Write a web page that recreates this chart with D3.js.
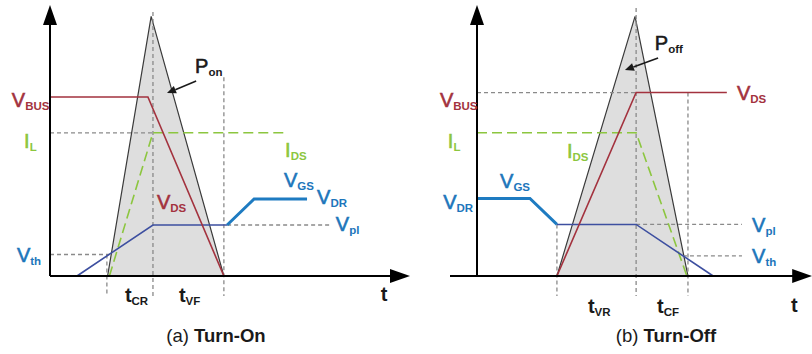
<!DOCTYPE html>
<html>
<head>
<meta charset="utf-8">
<script src="https://cdn.jsdelivr.net/npm/d3@7"></script>
<style>
  html, body { margin: 0; padding: 0; background: #fff; }
  svg { display: block; font-family: "Liberation Sans", Arial, Helvetica, sans-serif; }
</style>
</head>
<body>
<svg id="chart" width="812" height="354"></svg>
<script>
// ---- Turn-on waveforms: [time, level] in arbitrary units ----
const onVds     = [[0, 100], [27.2, 100], [48.3, 0], [68.9, 0]];
const onIds     = [[16.5, 0], [28.6, 80], [65.8, 80]];
const onVgs     = [[7.5, 0], [28.6, 28.5], [49.2, 28.5]];
const onVgsDrv  = [[49.2, 28.5], [56.7, 43], [71.4, 43]];
const onPower   = [[16, 0], [28.1, 145], [48.3, 0]];

// ---- Turn-off waveforms ----
const offVds    = [[0, 0], [22.2, 0], [44.2, 102.5], [69.4, 102.5]];
const offIds    = [[0, 80], [44.2, 80], [58.3, 0]];
const offVgsDrv = [[0, 43.3], [14.7, 43.3], [22.2, 28.8]];
const offVgs    = [[22.2, 28.8], [44.2, 28.8], [65.6, 0]];
const offPower  = [[22.2, 0], [43.9, 145], [58.6, 0]];

// ---- Reference levels / time markers (dashed guides) ----
const onLevels  = { IL: 80, Vpl: 28.5, Vth: 12 };
const onMarks   = { tStart: 15.8, tPlateau: 28.6, tEnd: 48.3 };
const offLevels = { VBUS: 102.5, Vpl: 28.8, Vth: 11.2 };
const offMarks  = { tStart: 22.2, tPlateau: 44.2, tEnd: 58.6 };

const C = {
  red: "#a3323e", green: "#8cc63f", blueThin: "#3d4fa0", blueThick: "#1e7bc1",
  blueText: "#1d76bb", grey: "#8a8a8a", fill: "#dedede", edge: "#3a3a3a", ink: "#1a1a1a"
};

const svg = d3.select("#chart");
const y = d3.scaleLinear().domain([0, 100]).range([276, 97]);
const xOn = d3.scaleLinear().domain([0, 100]).range([50, 410]);
const xOff = d3.scaleLinear().domain([0, 100]).range([477, 837]);

function panel(x, opt) {
  const g = svg.append("g");
  const line = d3.line().x(d => x(d[0])).y(d => y(d[1]));
  const dashed = (pts) => g.append("path").attr("d", line(pts))
      .attr("fill", "none").attr("stroke", C.grey).attr("stroke-width", 1.3)
      .attr("stroke-dasharray", "4,3");

  // switching-loss triangle
  g.append("path").attr("d", line(opt.power) + "Z").attr("fill", C.fill).attr("stroke", "none");
  g.append("path").attr("d", line(opt.power)).attr("fill", "none")
      .attr("stroke", C.edge).attr("stroke-width", 1.2);

  opt.guides.forEach(dashed);

  const stroke = (pts, col, w, dash) => g.append("path").attr("d", line(pts))
      .attr("fill", "none").attr("stroke", col).attr("stroke-width", w)
      .attr("stroke-linejoin", "miter").attr("stroke-dasharray", dash || null);

  stroke(opt.ids, C.green, 1.6, "10,5");
  stroke(opt.vgs, C.blueThin, 1.6);
  stroke(opt.vgsDrv, C.blueThick, 3);
  stroke(opt.vds, C.red, 1.6);

  // axes with arrowheads
  const ax0 = x(0), ay0 = y(0);
  const yTip = y(151.4), xTip = x(opt.xEnd);
  g.append("line").attr("x1", ax0).attr("y1", ay0).attr("x2", ax0).attr("y2", yTip + 16)
      .attr("stroke", "#000").attr("stroke-width", 2);
  g.append("path").attr("d", `M${ax0},${yTip} L${ax0 - 7},${yTip + 20} L${ax0 + 7},${yTip + 20}Z`)
      .attr("fill", "#000");
  g.append("line").attr("x1", x(opt.xStart)).attr("y1", ay0).attr("x2", xTip - 16).attr("y2", ay0)
      .attr("stroke", "#000").attr("stroke-width", 2);
  g.append("path").attr("d", `M${xTip},${ay0} L${xTip - 20},${ay0 - 7} L${xTip - 20},${ay0 + 7}Z`)
      .attr("fill", "#000");

  // pointer to the loss area
  const a = opt.arrow;
  const x1 = x(a[0][0]), y1 = y(a[0][1]), x2 = x(a[1][0]), y2 = y(a[1][1]);
  const ang = Math.atan2(y2 - y1, x2 - x1), L = 9, Wd = 4;
  const bx = x2 - L * Math.cos(ang), by = y2 - L * Math.sin(ang);
  g.append("line").attr("x1", x1).attr("y1", y1).attr("x2", bx).attr("y2", by)
      .attr("stroke", C.ink).attr("stroke-width", 1.6);
  g.append("path").attr("d",
      `M${x2},${y2} L${bx + Wd * Math.sin(ang)},${by - Wd * Math.cos(ang)} L${bx - Wd * Math.sin(ang)},${by + Wd * Math.cos(ang)}Z`)
      .attr("fill", C.ink);

  // labels: main symbol with a bold subscript
  opt.labels.forEach(([main, sub, t, v, col]) => {
    const txt = g.append("text").attr("x", x(t)).attr("y", y(v)).attr("fill", col);
    const isT = main === "t";
    txt.append("tspan").text(main).attr("font-size", isT ? 20 : 20)
       .attr("font-weight", isT ? "bold" : "normal")
       .attr("stroke", col).attr("stroke-width", isT ? 0 : 0.6);
    if (sub) txt.append("tspan").text(sub).attr("font-size", 11.5).attr("font-weight", "bold").attr("dy", 3);
  });

  const title = g.append("text").attr("x", x(opt.title[2])).attr("y", y(-36.9))
      .attr("text-anchor", "middle").attr("font-size", 18.5).attr("fill", C.ink);
  title.append("tspan").text(opt.title[0] + " ");
  title.append("tspan").text(opt.title[1]).attr("font-weight", "bold");
}

panel(xOn, {
  power: onPower, ids: onIds, vgs: onVgs, vgsDrv: onVgsDrv, vds: onVds,
  xStart: 0, xEnd: 100,
  guides: [
    [[0, onLevels.IL], [onMarks.tPlateau, onLevels.IL]],
    [[0, onLevels.Vth], [16.5, onLevels.Vth]],
    [[49.2, onLevels.Vpl], [77.8, onLevels.Vpl]],
    [[onMarks.tStart, onLevels.Vth], [onMarks.tStart, -11.2]],
    [[onMarks.tPlateau, 147.5], [onMarks.tPlateau, -11.2]],
    [[onMarks.tEnd, 111], [onMarks.tEnd, -11.2]]
  ],
  arrow: [[40.6, 108.9], [32.5, 102.2]],
  labels: [
    ["V", "BUS", -10.6, 94.4, C.red],
    ["I", "L", -7.2, 71.5, C.green],
    ["V", "th", -9.2, 7.8, C.blueText],
    ["P", "on", 40.3, 113.4, C.ink],
    ["V", "DS", 29.7, 37.4, C.red],
    ["I", "DS", 65.3, 66.5, C.green],
    ["V", "GS", 65, 49.7, C.blueText],
    ["V", "DR", 74.2, 40.2, C.blueText],
    ["V", "pl", 79.4, 25.1, C.blueText],
    ["t", "CR", 20.8, -14.5, C.ink],
    ["t", "VF", 35.8, -14.5, C.ink],
    ["t", "", 91.9, -14, C.ink]
  ],
  title: ["(a)", "Turn-On", 46.1]
});

panel(xOff, {
  power: offPower, ids: offIds, vgs: offVgs, vgsDrv: offVgsDrv, vds: offVds,
  xStart: -7.5, xEnd: 93.1,
  guides: [
    [[0, offLevels.VBUS], [offMarks.tPlateau, offLevels.VBUS]],
    [[offMarks.tPlateau, offLevels.Vpl], [73.6, offLevels.Vpl]],
    [[57.2, offLevels.Vth], [73.6, offLevels.Vth]],
    [[offMarks.tStart, offLevels.Vpl], [offMarks.tStart, -11.2]],
    [[offMarks.tPlateau, 149.7], [offMarks.tPlateau, -11.2]],
    [[offMarks.tEnd, offLevels.VBUS], [offMarks.tEnd, -11.2]]
  ],
  arrow: [[50.3, 121.8], [41.1, 115.1]],
  labels: [
    ["V", "BUS", -10.3, 94.4, C.red],
    ["I", "L", -8.1, 71.5, C.green],
    ["I", "DS", 25, 65.9, C.green],
    ["V", "GS", 6.4, 49.2, C.blueText],
    ["V", "DR", -9.4, 37.4, C.blueText],
    ["V", "DS", 72.2, 98.3, C.red],
    ["P", "off", 49.4, 126.3, C.ink],
    ["V", "pl", 76.4, 24.6, C.blueText],
    ["V", "th", 76.4, 7.3, C.blueText],
    ["t", "VR", 30.8, -20.7, C.ink],
    ["t", "CF", 50, -20.7, C.ink],
    ["t", "", 87.2, -20.1, C.ink]
  ],
  title: ["(b)", "Turn-Off", 52.5]
});
</script>
</body>
</html>
